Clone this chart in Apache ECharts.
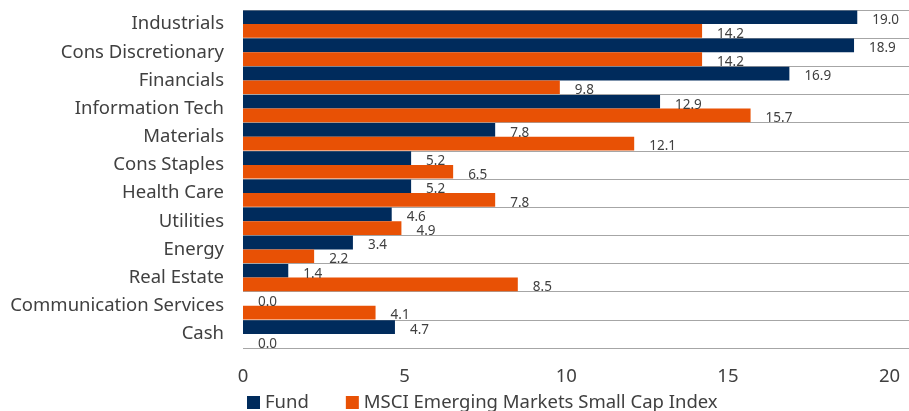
<!DOCTYPE html>
<html>
<head>
<meta charset="utf-8">
<script src="https://cdn.jsdelivr.net/npm/echarts@6/dist/echarts.min.js"></script>
<style>
  html, body { margin: 0; padding: 0; background: #fff; }
  #chart { width: 909px; height: 411px; }
</style>
</head>
<body>
<div id="chart"></div>
<script>
// sectors, top to bottom
const sectors = [
  'Industrials', 'Cons Discretionary', 'Financials', 'Information Tech', 'Materials',
  'Cons Staples', 'Health Care', 'Utilities', 'Energy', 'Real Estate',
  'Communication Services', 'Cash',
];
const fundValues = [19.0, 18.9, 16.9, 12.9, 7.8, 5.2, 5.2, 4.6, 3.4, 1.4, 0.0, 4.7];
const indexValues = [14.2, 14.2, 9.8, 15.7, 12.1, 6.5, 7.8, 4.9, 2.2, 8.5, 4.1, 0.0];
const seriesNames = ['Fund', 'MSCI Emerging Markets Small Cap Index'];

const font = '"Noto Sans", "Open Sans", sans-serif';

const barLabel = {
  show: true,
  position: 'right',
  distance: 15,
  offset: [0, 3],
  color: '#404040',
  fontSize: 13.5,
  fontFamily: font,
  formatter: p => p.value.toFixed(1),
};

const myChart = echarts.init(document.getElementById('chart'));
const option = {
  animation: false,
  textStyle: { fontFamily: font },
  grid: { left: 243, right: 0, top: 10, bottom: 63, containLabel: false },
  legend: {
    data: seriesNames,
    left: 242,
    top: 388,
    icon: 'rect',
    itemWidth: 13,
    itemHeight: 13,
    itemGap: 37,
    itemStyle: { borderWidth: 0 },
    textStyle: { color: '#404040', fontSize: 18.5, fontFamily: font },
  },
  xAxis: {
    type: 'value',
    min: 0,
    max: 20.6,
    interval: 5,
    axisLine: { show: false },
    axisTick: { show: false },
    splitLine: { show: false },
    axisLabel: { color: '#404040', fontSize: 18.5, margin: 19, showMaxLabel: false, fontFamily: font },
  },
  yAxis: {
    type: 'category',
    inverse: true,
    data: sectors,
    axisLine: { show: false },
    axisTick: { show: false },
    splitLine: { show: true, lineStyle: { color: '#a6a6a6', width: 1 } },
    axisLabel: { color: '#404040', fontSize: 18.5, margin: 19, fontFamily: font },
  },
  series: [
    {
      name: seriesNames[0],
      type: 'bar',
      data: fundValues,
      itemStyle: { color: '#002b5c' },
      barGap: '0%',
      barCategoryGap: '3%',
      label: barLabel,
    },
    {
      name: seriesNames[1],
      type: 'bar',
      data: indexValues,
      itemStyle: { color: '#e85105' },
      barGap: '0%',
      barCategoryGap: '3%',
      label: barLabel,
    },
  ],
};
myChart.setOption(option, true);
</script>
</body>
</html>
